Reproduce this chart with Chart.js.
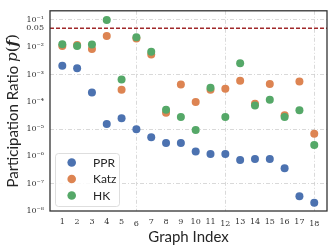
<!DOCTYPE html>
<html><head><meta charset="utf-8">
<script src="https://cdn.jsdelivr.net/npm/chart.js@4/dist/chart.umd.min.js"></script>
<style>html,body{margin:0;padding:0;background:#fff;}#wrap{width:332px;height:249px;}</style>
</head><body><div id="wrap"><canvas id="c" width="332" height="249"></canvas></div>
<script>
const graphIndex = [1,2,3,4,5,6,7,8,9,10,11,12,13,14,15,16,17,18];
const pprValues  = [2.1e-3,1.7e-3,2.2e-4,1.55e-5,2.5e-5,1.0e-5,5.0e-6,3.1e-6,3.1e-6,1.5e-6,1.23e-6,1.23e-6,7.4e-7,8.1e-7,8.0e-7,3.7e-7,3.5e-8,2.0e-8];
const katzValues = [1.12e-2,1.2e-2,8.7e-3,2.6e-2,2.8e-4,2.1e-2,5.4e-3,4.0e-5,4.3e-4,9.8e-5,2.8e-4,3.0e-4,5.9e-4,8.5e-5,4.5e-4,3.2e-5,5.6e-4,6.8e-6];
const hkValues   = [1.3e-2,1.12e-2,1.25e-2,0.1,6.6e-4,2.35e-2,6.9e-3,5.1e-5,2.8e-5,9.2e-6,3.3e-4,2.8e-5,2.6e-3,7.4e-5,1.2e-4,2.8e-5,4.9e-5,2.6e-6];
const seriesNames = ['PPR','Katz','HK'];
const seriesColors = ['#4C72B0','#DD8452','#55A868'];
const yTickValues = [1e-8,1e-7,1e-6,1e-5,1e-4,1e-3,1e-2,0.05,1e-1];
const yTickLabels = ['10\u207B\u2078','10\u207B\u2077','10\u207B\u2076','10\u207B\u2075','10\u207B\u2074','10\u207B\u00B3','10\u207B\u00B2','0.05','10\u207B\u00B9'];
const yGridDecades = [-1,-3,-5,-7];
const xGridIndices = [6,12,18];
const thresholdValue = 0.05;
const xTitle = 'Graph Index';
const yTitleText = 'Participation Ratio ';

const allSeries = [pprValues, katzValues, hkValues];
const datasets = allSeries.map((vals, k) => ({
  label: seriesNames[k],
  data: graphIndex.map((g, i) => ({x: g, y: vals[i]})),
  backgroundColor: seriesColors[k],
  borderWidth: 0,
  pointRadius: 4,
  pointHoverRadius: 4,
  order: 2 - k
}));

const SANS = 'Lato, "DejaVu Sans", sans-serif';
const SERIF = '"DejaVu Serif", serif';

const decorPlugin = {
  id: 'decor',
  beforeDatasetsDraw(chart) {
    const {ctx, chartArea: a, scales} = chart;
    ctx.save();
    const yv = scales.y.getPixelForValue(thresholdValue);
    ctx.strokeStyle = '#A0282A';
    ctx.lineWidth = 1.5;
    ctx.setLineDash([4, 2]);
    ctx.beginPath(); ctx.moveTo(a.left, yv); ctx.lineTo(a.right, yv); ctx.stroke();
    ctx.setLineDash([]);
    ctx.strokeStyle = '#333333';
    ctx.lineWidth = 1.3;
    ctx.strokeRect(a.left, a.top, a.right - a.left, a.bottom - a.top);
    ctx.restore();
  },
  afterDatasetsDraw(chart) {
    const {ctx} = chart;
    ctx.save();
    ctx.beginPath();
    ctx.roundRect(55.5, 153.5, 64, 53, 3);
    ctx.fillStyle = 'rgba(255,255,255,0.85)';
    ctx.fill();
    ctx.strokeStyle = '#d6d6d6';
    ctx.lineWidth = 0.8;
    ctx.stroke();
    const rows = [162.5, 179, 195.5];
    ctx.font = '12px ' + SANS;
    ctx.textBaseline = 'middle';
    ctx.textAlign = 'left';
    seriesNames.forEach((n, k) => {
      ctx.fillStyle = seriesColors[k];
      ctx.beginPath(); ctx.arc(71.7, rows[k], 4.3, 0, Math.PI * 2); ctx.fill();
      ctx.fillStyle = '#262626';
      ctx.fillText(n, 93, rows[k] + 0.5);
    });
    ctx.restore();
  },
  afterDraw(chart) {
    const {ctx, chartArea: a} = chart;
    ctx.save();
    ctx.fillStyle = '#262626';
    ctx.textBaseline = 'middle';
    ctx.textAlign = 'center';
    ctx.font = '15px ' + SANS;
    ctx.fillText(xTitle, (a.left + a.right) / 2, 237);
    ctx.translate(13, (a.top + a.bottom) / 2);
    ctx.rotate(-Math.PI / 2);
    ctx.textAlign = 'left';
    const parts = [
      [yTitleText, '15px ' + SANS],
      ['p', 'italic 15px ' + SERIF],
      ['(', '15px ' + SERIF],
      ['f', 'italic bold 15px ' + SERIF],
      [')', '15px ' + SERIF]
    ];
    let w = 0;
    parts.forEach(p => { ctx.font = p[1]; w += ctx.measureText(p[0]).width; });
    let x = -w / 2;
    parts.forEach(p => { ctx.font = p[1]; ctx.fillText(p[0], x, 0); x += ctx.measureText(p[0]).width; });
    ctx.restore();
  }
};

new Chart(document.getElementById('c'), {
  type: 'scatter',
  data: {datasets},
  options: {
    responsive: false,
    animation: false,
    devicePixelRatio: 1,
    layout: {padding: {left: 0, right: 5, top: 5, bottom: 0}},
    plugins: {legend: {display: false}, tooltip: {enabled: false}},
    scales: {
      x: {
        type: 'linear', min: 0.17, max: 18.86,
        afterBuildTicks: s => { s.ticks = graphIndex.map(v => ({value: v})); },
        afterFit: s => { s.height = 38; },
        ticks: {color: '#333', padding: 6, autoSkip: false, maxRotation: 0,
          font: c => ({family: SERIF, size: 8,
            lineHeight: (c.tick && xGridIndices.includes(c.tick.value)) ? 1.7 : 1.2}),
          callback: v => String(v)},
        grid: {drawTicks: false, lineWidth: 0.8,
          color: c => (c.tick && xGridIndices.includes(c.tick.value)) ? '#cfcfcf' : 'rgba(0,0,0,0)'},
        border: {display: false, dash: [4, 2, 1, 2]}
      },
      y: {
        type: 'logarithmic', min: 1e-8, max: Math.pow(10, -0.664),
        afterBuildTicks: s => { s.ticks = yTickValues.map(v => ({value: v})); },
        afterFit: s => { s.width = 50; },
        ticks: {font: {family: SERIF, size: 8}, color: '#333', padding: 6, autoSkip: false,
          callback: (v, i) => yTickLabels[i]},
        grid: {drawTicks: false, lineWidth: 0.8,
          color: c => {
            if (!c.tick) return 'rgba(0,0,0,0)';
            const l = Math.log10(c.tick.value);
            return (Math.abs(l - Math.round(l)) < 1e-6 && yGridDecades.includes(Math.round(l))) ? '#cfcfcf' : 'rgba(0,0,0,0)';
          }},
        border: {display: false, dash: [4, 2, 1, 2]}
      }
    }
  },
  plugins: [decorPlugin]
});
</script></body></html>
